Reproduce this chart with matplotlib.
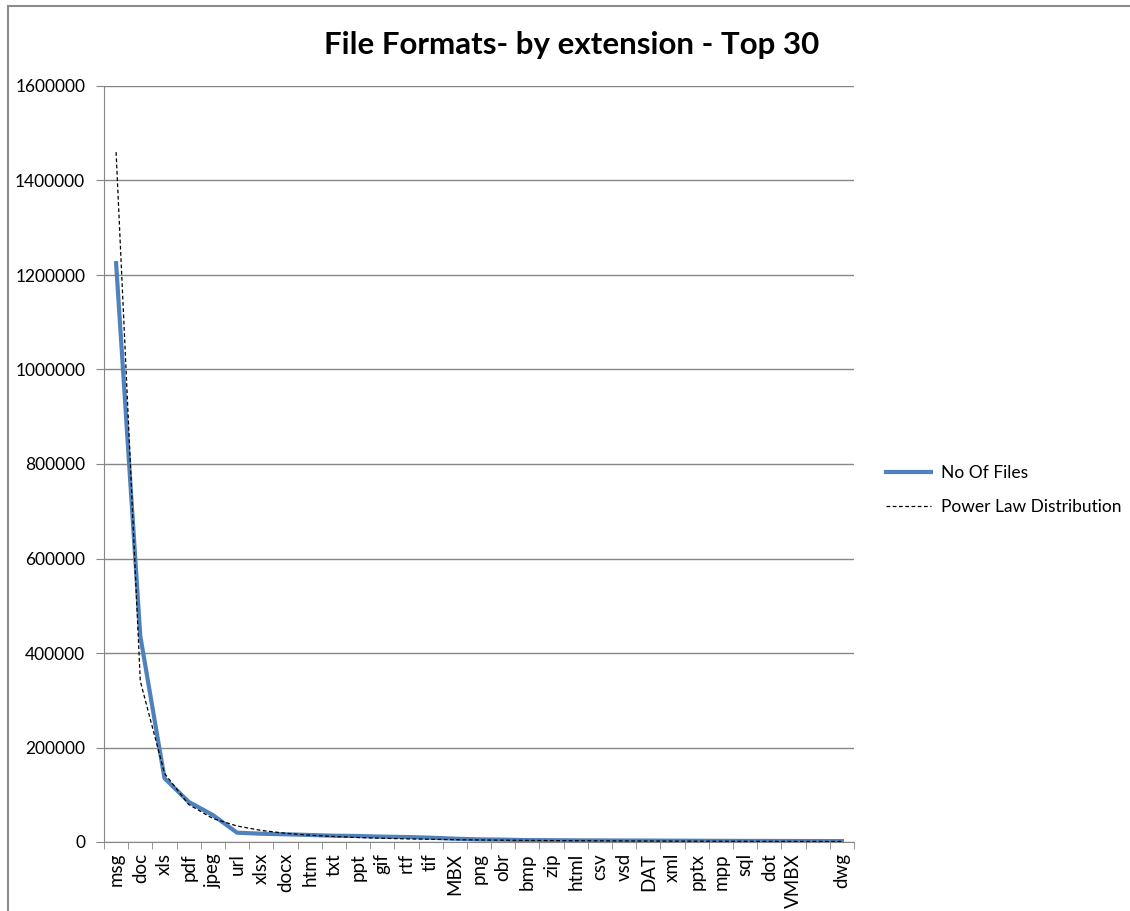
import matplotlib.pyplot as plt
from matplotlib.patches import Rectangle
from matplotlib.ticker import FixedLocator, NullFormatter

# File extensions (the 30th label is not shown on the original axis)
extensions = ["msg", "doc", "xls", "pdf", "jpeg", "url", "xlsx", "docx", "htm", "txt",
              "ppt", "gif", "rtf", "tif", "MBX", "png", "obr", "bmp", "zip", "html",
              "csv", "vsd", "DAT", "xml", "pptx", "mpp", "sql", "dot", "VMBX", "", "dwg"]

no_of_files = [1225000, 436000, 135000, 85000, 57000, 19700, 17500, 16300, 14800, 13300,
               12700, 11300, 10500, 9100, 7000, 5500, 5000, 4000, 3800, 3500,
               3300, 3100, 3000, 2800, 2600, 2400, 2300, 2200, 2100, 2000, 1900]

power_law = [1460000, 340600, 145300, 79400, 49700, 33900, 24500, 18500, 14450, 11600,
             9500, 7900, 6700, 5740, 4970, 4320, 3800, 3370, 3010, 2700,
             2430, 2205, 2010, 1835, 1680, 1550, 1430, 1320, 1230, 1140, 1065]

y_ticks = [0, 200000, 400000, 600000, 800000, 1000000, 1200000, 1400000, 1600000]

plt.rcParams['font.family'] = ['Lato', 'DejaVu Sans']

fig = plt.figure(figsize=(11.3, 9.11), dpi=100)
ax = fig.add_axes([104 / 1130, 1 - 842 / 911, 750 / 1130, 756 / 911])

# chart area border
fig.patches.append(Rectangle((8 / 1130, -0.05), 1.2, 1 - 6 / 911 + 0.05,
                             transform=fig.transFigure, fill=False,
                             edgecolor='#8c8c8c', linewidth=1.5))

x = list(range(len(extensions)))
ax.plot(x, no_of_files, color='#4F81BD', linewidth=3, label='No Of Files',
        solid_joinstyle='round', zorder=3)
ax.plot(x, power_law, color='black', linewidth=0.9, linestyle=(0, (3, 2)),
        label='Power Law Distribution', zorder=4)

ax.set_xlim(-0.5, len(extensions) - 0.5)
ax.set_ylim(0, 1600000)
ax.set_yticks(y_ticks)
ax.set_yticklabels([str(v) for v in y_ticks], fontsize=12.5)

ax.set_xticks(x)
ax.set_xticklabels(extensions, rotation=90, fontsize=13.5)
ax.tick_params(axis='x', which='major', length=0, pad=8)
ax.xaxis.set_minor_locator(FixedLocator([i - 0.5 for i in range(len(extensions) + 1)]))
ax.xaxis.set_minor_formatter(NullFormatter())
ax.tick_params(axis='x', which='minor', length=5, color='#868686')
ax.tick_params(axis='y', length=6, color='#868686', pad=7.5)

ax.grid(axis='y', color='#868686', linewidth=1)
ax.set_axisbelow(True)
for side in ['top', 'right']:
    ax.spines[side].set_visible(False)
for side in ['left', 'bottom']:
    ax.spines[side].set_color('#868686')

fig.text(572 / 1130, 1 - 45 / 911, "File Formats- by extension - Top 30",
         ha='center', va='center', fontsize=22.5, fontweight='bold')

ax.legend(loc='center left', bbox_to_anchor=(870 / 1130, 1 - 490 / 911),
          bbox_transform=fig.transFigure, frameon=False, fontsize=12.5,
          handlelength=2.6, labelspacing=1.0, handletextpad=0.6)

fig.savefig("out.png", dpi=100)
